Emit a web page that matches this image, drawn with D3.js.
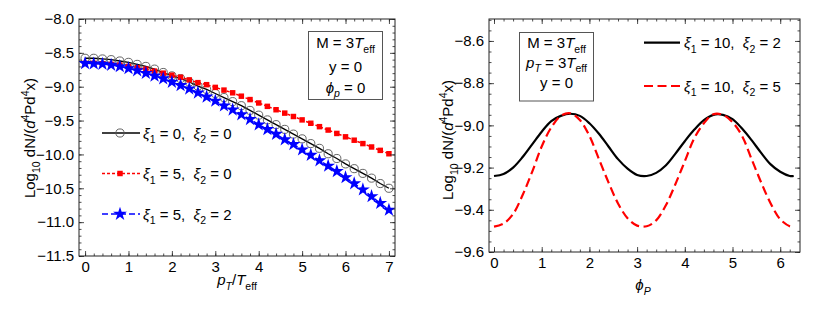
<!DOCTYPE html>
<html>
<head>
<meta charset="utf-8">
<script src="https://cdn.jsdelivr.net/npm/d3@7"></script>
<style>
  body { margin: 0; background: #fff; }
  svg { font-family: "Liberation Sans", Arial, sans-serif; }
</style>
</head>
<body>
<div id="wrapper"></div>
<script>
/* DATA: left panel, log10 yield vs pT/Teff */
const pT = [0, 0.2, 0.4, 0.6, 0.8, 1.0, 1.2, 1.4, 1.6, 1.8, 2.0, 2.2, 2.4, 2.6, 2.8, 3.0, 3.2, 3.4,
  3.6, 3.8, 4.0, 4.2, 4.4, 4.6, 4.8, 5.0, 5.2, 5.4, 5.6, 5.8, 6.0, 6.2, 6.4, 6.6, 6.8, 7.0];
const yieldXi00 = [-8.58, -8.58, -8.59, -8.60, -8.62, -8.64, -8.67, -8.70, -8.74, -8.79, -8.84, -8.88,
  -8.93, -8.99, -9.04, -9.10, -9.16, -9.22, -9.28, -9.35, -9.42, -9.49, -9.56, -9.63, -9.70, -9.77,
  -9.84, -9.91, -9.99, -10.06, -10.14, -10.21, -10.28, -10.35, -10.43, -10.50];
const yieldXi50 = [-8.655, -8.655, -8.66, -8.67, -8.68, -8.70, -8.72, -8.74, -8.77, -8.80, -8.83, -8.86,
  -8.90, -8.94, -8.97, -9.01, -9.05, -9.09, -9.14, -9.19, -9.24, -9.29, -9.34, -9.39, -9.44, -9.49,
  -9.54, -9.59, -9.64, -9.69, -9.74, -9.79, -9.84, -9.89, -9.94, -9.99];
const yieldXi52 = [-8.655, -8.66, -8.665, -8.68, -8.70, -8.73, -8.76, -8.80, -8.84, -8.88, -8.93, -8.98,
  -9.03, -9.09, -9.15, -9.21, -9.28, -9.34, -9.41, -9.48, -9.56, -9.63, -9.70, -9.78, -9.85, -9.93,
  -10.01, -10.09, -10.17, -10.25, -10.34, -10.43, -10.52, -10.62, -10.72, -10.82];

/* DATA: right panel, log10 yield vs phi_P */
const phiP = [0, 0.2, 0.4, 0.6, 0.8, 1.0, 1.2, 1.4, 1.6, 1.8, 2.0, 2.2, 2.4, 2.6, 2.8, 3.0, 3.2, 3.4,
  3.6, 3.8, 4.0, 4.2, 4.4, 4.6, 4.8, 5.0, 5.2, 5.4, 5.6, 5.8, 6.0, 6.2, 6.283];
const yieldXi102 = [-9.24, -9.23, -9.20, -9.15, -9.09, -9.03, -8.98, -8.955, -8.945, -8.955, -8.99, -9.04,
  -9.10, -9.16, -9.205, -9.235, -9.24, -9.225, -9.19, -9.135, -9.075, -9.02, -8.975, -8.95, -8.95, -8.97,
  -9.015, -9.07, -9.13, -9.185, -9.22, -9.24, -9.24];
const yieldXi105 = [-9.48, -9.465, -9.42, -9.33, -9.22, -9.10, -9.01, -8.955, -8.943, -8.975, -9.05, -9.16,
  -9.27, -9.37, -9.44, -9.475, -9.478, -9.45, -9.38, -9.28, -9.17, -9.06, -8.99, -8.947, -8.95, -8.985,
  -9.05, -9.16, -9.27, -9.37, -9.445, -9.478, -9.48];

/* TICKS */
const leftXTicks = [0, 1, 2, 3, 4, 5, 6, 7];
const leftYTicks = [-11.5, -11.0, -10.5, -10.0, -9.5, -9.0, -8.5, -8.0];
const rightXTicks = [0, 1, 2, 3, 4, 5, 6];
const rightYTicks = [-9.6, -9.4, -9.2, -9.0, -8.8, -8.6];

const fmt1 = d => d3.format(".1f")(d).replace("-", "\u2212");
const PHI = "\u03D5";

const svg = d3.select("#wrapper").append("svg")
  .attr("width", 830).attr("height", 310);

// rich text: parts [{t, i, sub, sup}]
function richText(sel, parts, size) {
  let shift = 0;
  parts.forEach(p => {
    const target = p.sub ? size * 0.3 : p.sup ? -size * 0.42 : 0;
    const ts = sel.append("tspan").attr("dy", target - shift).text(p.t);
    shift = target;
    if (p.sub || p.sup) ts.attr("font-size", size * 0.7);
    if (p.i) ts.attr("font-style", "italic");
  });
  return sel;
}

function addText(g, x, y, parts, opts = {}) {
  const size = opts.size || 15;
  const t = g.append("text")
    .attr("x", x).attr("y", y)
    .attr("font-size", size)
    .attr("text-anchor", opts.anchor || "start")
    .style("white-space", "pre");
  if (opts.rotate) t.attr("transform", `rotate(-90, ${x}, ${y})`);
  return richText(t, parts, size);
}

function frame(dims, xScale, yScale, xMajor, xMinor, yMajor, yMinor, yFmt) {
  const g = svg.append("g")
    .attr("transform", `translate(${dims.left}, ${dims.top})`);
  const w = dims.width, h = dims.height;

  const axes = [
    [d3.axisBottom(xScale), `translate(0, ${h})`, xMajor, xMinor, d3.format("d")],
    [d3.axisTop(xScale), null, xMajor, xMinor, null],
    [d3.axisLeft(yScale), null, yMajor, yMinor, yFmt],
    [d3.axisRight(yScale), `translate(${w}, 0)`, yMajor, yMinor, null],
  ];
  axes.forEach(([ax, tr, major, minor, f]) => {
    const minorG = g.append("g").call(ax.tickValues(minor).tickSize(-2.5).tickFormat(""));
    if (tr) minorG.attr("transform", tr);
    ax.tickValues(major).tickSize(-5).tickPadding(f ? 5 : 0)
      .tickFormat(f ? f : () => "");
    const majorG = g.append("g").call(ax);
    if (tr) majorG.attr("transform", tr);
    [minorG, majorG].forEach(s => {
      s.select(".domain").remove();
      s.selectAll(".tick line").attr("stroke", "#222").attr("stroke-width", 0.8);
      s.selectAll("text").attr("font-size", 15).attr("fill", "#000")
        .attr("font-family", "Liberation Sans, Arial, sans-serif");
    });
  });

  g.append("rect")
    .attr("width", w).attr("height", h)
    .attr("fill", "none").attr("stroke", "#222").attr("stroke-width", 1);

  return g;
}

/* ---------------- LEFT PANEL ---------------- */
const L = { left: 79, top: 19, width: 316, height: 237 };
const xL = d3.scaleLinear().domain([-0.14, 7.14]).range([0, L.width]);
const yL = d3.scaleLinear().domain([-11.5, -8.0]).range([L.height, 0]);

const boundsL = svg.append("g").attr("transform", `translate(${L.left}, ${L.top})`);
svg.append("clipPath").attr("id", "clipL").append("rect")
  .attr("width", L.width).attr("height", L.height);
const plotL = boundsL.append("g").attr("clip-path", "url(#clipL)");

const seriesL = [
  { values: yieldXi00, color: "#000", dash: null, width: 1.3, symbol: d3.symbolCircle, size: 52,
    fill: "none", stroke: "#555", label: "0", label2: "0" },
  { values: yieldXi50, color: "#ff0000", dash: "3,2", width: 1.5, symbol: d3.symbolSquare, size: 30,
    fill: "#ff0000", stroke: "none", label: "5", label2: "0" },
  { values: yieldXi52, color: "#0000ff", dash: "6,3", width: 1.5, symbol: d3.symbolStar, size: 60,
    fill: "#0000ff", stroke: "none", label: "5", label2: "2" },
];

const lineL = d3.line().x((d, i) => xL(pT[i])).y(d => yL(d));

seriesL.forEach(s => {
  plotL.append("path")
    .attr("d", lineL(s.values))
    .attr("fill", "none")
    .attr("stroke", s.color)
    .attr("stroke-width", s.width)
    .attr("stroke-dasharray", s.dash);
  plotL.selectAll(null).data(s.values).enter().append("path")
    .attr("d", d3.symbol(s.symbol, s.size))
    .attr("transform", (d, i) => `translate(${xL(pT[i])}, ${yL(d)})`)
    .attr("fill", s.fill)
    .attr("stroke", s.stroke)
    .attr("stroke-width", 0.9);
});

frame(L, xL, yL, leftXTicks, d3.range(0, 36).map(d => d / 5),
  leftYTicks, d3.range(-115, -79).map(d => d / 10), fmt1);

// legend (left)
const legendL = svg.append("g");
seriesL.forEach((s, i) => {
  const y = 133 + i * 40.5;
  legendL.append("line")
    .attr("x1", 102).attr("x2", 140).attr("y1", y).attr("y2", y)
    .attr("stroke", s.color).attr("stroke-width", s.width)
    .attr("stroke-dasharray", s.dash);
  legendL.append("path")
    .attr("d", d3.symbol(s.symbol, s.size))
    .attr("transform", `translate(120, ${y})`)
    .attr("fill", s.fill).attr("stroke", s.stroke).attr("stroke-width", 0.9);
  addText(legendL, 143, y + 5.5, [
    { t: "\u03BE", i: true }, { t: "1", sub: true }, { t: " = " + s.label + ",  " },
    { t: "\u03BE", i: true }, { t: "2", sub: true }, { t: " = " + s.label2 },
  ]);
});

// annotation box (left)
svg.append("rect")
  .attr("x", 308.5).attr("y", 31.5).attr("width", 74).attr("height", 68)
  .attr("fill", "#fff").attr("stroke", "#555").attr("stroke-width", 1);
addText(svg, 345.5, 48, [{ t: "M = 3" }, { t: "T", i: true }, { t: "eff", sub: true }], { anchor: "middle" });
addText(svg, 345.5, 71.5, [{ t: "y = 0" }], { anchor: "middle" });
addText(svg, 345.5, 92.5, [{ t: PHI, i: true }, { t: "p", sub: true, i: true }, { t: " = 0" }], { anchor: "middle" });

// axis titles (left)
addText(svg, 237, 285, [{ t: "p", i: true }, { t: "T", sub: true, i: true }, { t: "/" },
  { t: "T", i: true }, { t: "eff", sub: true }], { anchor: "middle" });
const yTitleParts = [{ t: "Log" }, { t: "10", sub: true }, { t: " dN/(" }, { t: "d", i: true },
  { t: "4", sup: true }, { t: "Pd" }, { t: "4", sup: true }, { t: "x)" }];
addText(svg, 35, 138, yTitleParts, { anchor: "middle", rotate: true });

/* ---------------- RIGHT PANEL ---------------- */
const R = { left: 489, top: 19, width: 311, height: 233 };
const xR = d3.scaleLinear().domain([-0.105, 6.415]).range([0, R.width]);
const yR = d3.scaleLinear().domain([-9.6, -8.496]).range([R.height, 0]);

const boundsR = svg.append("g").attr("transform", `translate(${R.left}, ${R.top})`);
svg.append("clipPath").attr("id", "clipR").append("rect")
  .attr("width", R.width).attr("height", R.height);
const plotR = boundsR.append("g").attr("clip-path", "url(#clipR)");

const seriesR = [
  { values: yieldXi102, color: "#000", dash: null, label2: "2" },
  { values: yieldXi105, color: "#ff0000", dash: "9,4.5", label2: "5" },
];
const lineR = d3.line().x((d, i) => xR(phiP[i])).y(d => yR(d)).curve(d3.curveCatmullRom);

seriesR.forEach(s => {
  plotR.append("path")
    .attr("d", lineR(s.values))
    .attr("fill", "none")
    .attr("stroke", s.color)
    .attr("stroke-width", 2.2)
    .attr("stroke-dasharray", s.dash);
});

frame(R, xR, yR, rightXTicks, d3.range(0, 32).map(d => d / 5),
  rightYTicks, d3.range(-192, -169).map(d => d / 20), fmt1);

// legend (right)
seriesR.forEach((s, i) => {
  const y = 42.7 + i * 43.3;
  svg.append("line")
    .attr("x1", 644).attr("x2", 680).attr("y1", y).attr("y2", y)
    .attr("stroke", s.color).attr("stroke-width", 2.2)
    .attr("stroke-dasharray", s.dash);
  addText(svg, 684, y + 5.5, [
    { t: "\u03BE", i: true }, { t: "1", sub: true }, { t: " = 10,  " },
    { t: "\u03BE", i: true }, { t: "2", sub: true }, { t: " = " + s.label2 },
  ]);
});

// annotation box (right)
svg.append("rect")
  .attr("x", 519.5).attr("y", 32.5).attr("width", 74).attr("height", 68.5)
  .attr("fill", "#fff").attr("stroke", "#555").attr("stroke-width", 1);
addText(svg, 556.5, 48, [{ t: "M = 3" }, { t: "T", i: true }, { t: "eff", sub: true }], { anchor: "middle" });
addText(svg, 556.5, 67.5, [{ t: "p", i: true }, { t: "T", sub: true, i: true }, { t: " = 3" },
  { t: "T", i: true }, { t: "eff", sub: true }], { anchor: "middle" });
addText(svg, 556.5, 87.5, [{ t: "y = 0" }], { anchor: "middle" });

// axis titles (right)
addText(svg, 643, 290, [{ t: PHI, i: true }, { t: "P", sub: true, i: true }], { anchor: "middle" });
addText(svg, 453, 140, yTitleParts, { anchor: "middle", rotate: true });
</script>
</body>
</html>
